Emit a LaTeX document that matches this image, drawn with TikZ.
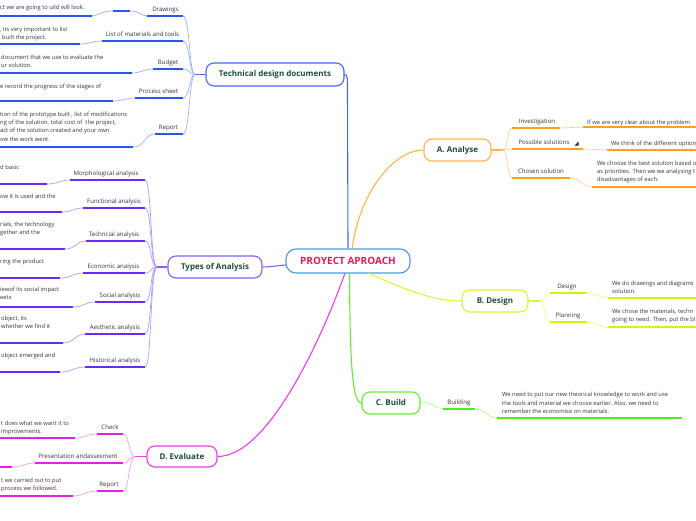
\documentclass[tikz,border=0pt]{standalone}
\usepackage{fontspec}
\setmainfont{Open Sans}
\definecolor{tg}{HTML}{1E4D3C}
\definecolor{txt}{HTML}{333333}
\definecolor{bluD}{HTML}{2A55F5}
\definecolor{bluL}{HTML}{9AB0FF}
\definecolor{bluM}{HTML}{4468FF}
\definecolor{purD}{HTML}{6A2CF0}
\definecolor{purL}{HTML}{B09CFF}
\definecolor{purM}{HTML}{8A5CFF}
\definecolor{magD}{HTML}{E61EE6}
\definecolor{magL}{HTML}{F5A0F5}
\definecolor{magM}{HTML}{EE3CEE}
\definecolor{oraD}{HTML}{FFA020}
\definecolor{oraL}{HTML}{FFD090}
\definecolor{oraM}{HTML}{FFB44A}
\definecolor{ygD}{HTML}{D4F500}
\definecolor{ygL}{HTML}{EAFF80}
\definecolor{ygM}{HTML}{DDF530}
\definecolor{grD}{HTML}{4CF01A}
\definecolor{grL}{HTML}{A8FF8A}
\definecolor{grM}{HTML}{66EE33}
\definecolor{cenB}{HTML}{4A9AE0}
\definecolor{cenT}{HTML}{E8185A}
\begin{document}
\begin{tikzpicture}[x=1pt,y=-1pt,
  lab/.style={font=\fontsize{6.1}{8.4}\selectfont, text=txt, inner sep=0pt, anchor=base},
  desc/.style={font=\fontsize{5.8}{8.4}\selectfont, text=txt, inner sep=0pt, align=left, anchor=north west},
  topic/.style={draw, rounded corners=8pt, line width=1.1pt, fill=white, font=\fontsize{8}{9}\selectfont\bfseries, text=tg, inner sep=0pt},
  ul/.style={line width=1.4pt},
  con/.style={line width=0.7pt},
  mainline/.style={line width=1.1pt}]
\useasboundingbox (0,0) rectangle (696,520);
\fill[white] (0,0) rectangle (696,520);

% ---------- topic boxes ----------
\node[topic, draw=cenB, rounded corners=10pt, minimum width=124pt, minimum height=24pt, font=\fontsize{10}{12}\selectfont\bfseries, text=cenT] (root) at (348,261) {PROYECT APROACH};
\node[topic, draw=bluM, minimum width=138pt, minimum height=23pt] (tech) at (275,74.5) {Technical design documents};
\node[topic, draw=purM, minimum width=94pt, minimum height=22pt] (types) at (215,267) {Types of Analysis};
\node[topic, draw=oraM, minimum width=67pt, minimum height=22pt] (A) at (457.5,150) {A. Analyse};
\node[topic, draw=ygM, minimum width=66pt, minimum height=22pt] (B) at (495,301) {B. Design};
\node[topic, draw=grM, minimum width=58pt, minimum height=22pt] (C) at (391,403) {C. Build};
\node[topic, draw=magM, minimum width=70pt, minimum height=21pt] (D) at (182,456.5) {D. Evaluate};

% ---------- main connectors ----------
\coordinate (rtA) at (352,249);
\coordinate (rtB) at (368,273);
\coordinate (rtC) at (349.5,273);
\coordinate (rtD) at (345,273);
\coordinate (rtT) at (286,265);
\draw[mainline,bluM] (tech.east) .. controls (347.5,74.5) and (347.5,78) .. (347.5,90) -- (root.north);
\draw[mainline,oraM] (rtA) .. controls (360,190) and (395,150) .. (A.west);
\draw[mainline,ygM] (rtB) .. controls (400,287) and (430,301) .. (B.west);
\draw[mainline,grM] (rtC) .. controls (350,360) and (352,403) .. (C.west);
\draw[mainline,magM] (rtD) .. controls (325,330) and (270,456.5) .. (D.east);
\draw[mainline,purM] (rtT) .. controls (278,265.5) and (270,267) .. (types.east);

% ---------- Technical design documents ----------
\coordinate (techS) at (195,74.5);
\draw[mainline,bluM] (tech.west) -- (techS);
% children underlines
\coordinate (drL) at (147,16);  \coordinate (drR) at (183,16);
\coordinate (liL) at (102,41);  \coordinate (liR) at (183,41);
\coordinate (buL) at (153,69);  \coordinate (buR) at (183,69);
\coordinate (prL) at (135,98);  \coordinate (prR) at (183,98);
\coordinate (reL) at (155,134); \coordinate (reR) at (183,134);
\foreach \c/\y in {drR/16,liR/41,buR/69,prR/98,reR/134}
  \draw[con,bluL] (techS) .. controls (189,74.5) and (190,\y) .. (\c);
\draw[ul,bluD] (drL) -- (drR);
\draw[ul,bluD] (liL) -- (liR);
\draw[ul,bluD] (buL) -- (buR);
\draw[ul,bluD] (prL) -- (prR);
\draw[ul,bluD] (reL) -- (reR);
\node[lab] (drT) at (165.5,11) {Drawings};
\node[lab] (liT) at (142.5,36) {List of materials and tools};
\node[lab] (buT) at (168,64) {Budget};
\node[lab] (prT) at (158.5,93) {Process sheet};
\node[lab] (reT) at (168.5,129) {Report};
% descriptions
\coordinate (d1R) at (92,16);   \coordinate (d1a) at (113,11); \coordinate (d1b) at (130,11);
\coordinate (d2R) at (80,44);
\coordinate (d3R) at (132,73);
\coordinate (d4R) at (113,101);
\coordinate (d5R) at (133,147);
\draw[ul,bluD] (-2,16) -- (d1R);
\draw[ul,bluD] (-2,44) -- (d2R);
\draw[ul,bluD] (-2,73) -- (d3R);
\draw[ul,bluD] (-2,101) -- (d4R);
\draw[ul,bluD] (-2,147) -- (d5R);
\draw[con,bluL] (d1R) .. controls (98,16) and (100,11) .. (d1a);
\draw[ul,bluD] (d1a) -- (d1b);
\draw[con,bluL] (d1b) .. controls (140,11) and (141,16) .. (drL);
\draw[con,bluL] (d2R) .. controls (90,44) and (92,41) .. (liL);
\draw[con,bluL] (d3R) .. controls (142,73) and (143,69) .. (buL);
\draw[con,bluL] (d4R) .. controls (123,101) and (125,98) .. (prL);
\draw[con,bluL] (d5R) .. controls (145,147) and (144,134) .. (reL);
\node[desc] (d1) at (0,4.4) {ct we are going to uild will look.};
\node[desc] (d2) at (0,26.4) {, its very important to list\\\hspace{2pt}built the project.};
\node[desc] (d3) at (1,54.4) {document that we use to evaluate the\\ur solution.};
\node[desc] (d4) at (0,83.4) {e record the progress of the stages of};
\node[desc] (d5) at (0,111.4) {tion of the prototype built , list of modifications\\ng of the solution, total cost of\ \ the project,\\act of the solution created and your own\\ow the work went.};

% ---------- Types of Analysis ----------
\coordinate (tyS) at (157,267);
\draw[mainline,purM] (types.west) -- (tyS);
\coordinate (moL) at (70,180);  \coordinate (moR) at (145,180);
\coordinate (fuL) at (83,208);  \coordinate (fuR) at (145,208);
\coordinate (teL) at (86,241);  \coordinate (teR) at (145,241);
\coordinate (ecL) at (83,273);  \coordinate (ecR) at (145,273);
\coordinate (soL) at (95,302);  \coordinate (soR) at (145,302);
\coordinate (aeL) at (85,334);  \coordinate (aeR) at (145,334);
\coordinate (hiL) at (85,367);  \coordinate (hiR) at (145,367);
\foreach \c/\y in {moR/180,fuR/208,teR/241,ecR/273,soR/302,aeR/334,hiR/367}
  \draw[con,purL] (tyS) .. controls (150,267) and (152,\y) .. (\c);
\foreach \a/\b in {moL/moR,fuL/fuR,teL/teR,ecL/ecR,soL/soR,aeL/aeR,hiL/hiR}
  \draw[ul,purD] (\a) -- (\b);
\node[lab] (moT) at (106,175) {Morphological analysis};
\node[lab] (fuT) at (114,203) {Functional analysis};
\node[lab] (teT) at (114,236) {Techncial analysis};
\node[lab] (ecT) at (113.5,268) {Economic analysis};
\node[lab] (soT) at (120,297) {Social analysis};
\node[lab] (aeT) at (115,329) {Aesthetic analysis};
\node[lab] (hiT) at (115,362) {Historical analysis};
\coordinate (e1R) at (47,184);
\coordinate (e2R) at (62,212);
\coordinate (e3R) at (65,249);
\coordinate (e4R) at (60,278);
\coordinate (e5R) at (73,307);
\coordinate (e6R) at (63,343);
\coordinate (e7R) at (60,372);
\draw[ul,purD] (-2,184) -- (e1R);
\draw[ul,purD] (-2,212) -- (e2R);
\draw[ul,purD] (-2,249) -- (e3R);
\draw[ul,purD] (-2,278) -- (e4R);
\draw[ul,purD] (-2,307) -- (e5R);
\draw[ul,purD] (-2,343) -- (e6R);
\draw[ul,purD] (-2,372) -- (e7R);
\draw[con,purL] (e1R) .. controls (58,184) and (60,180) .. (moL);
\draw[con,purL] (e2R) .. controls (72,212) and (74,208) .. (fuL);
\draw[con,purL] (e3R) .. controls (76,249) and (76,241) .. (teL);
\draw[con,purL] (e4R) .. controls (71,278) and (73,273) .. (ecL);
\draw[con,purL] (e5R) .. controls (84,307) and (85,302) .. (soL);
\draw[con,purL] (e6R) .. controls (74,343) and (75,334) .. (aeL);
\draw[con,purL] (e7R) .. controls (72,372) and (74,367) .. (hiL);
\node[desc] (e1) at (0,164.4) {d basic};
\node[desc] (e2) at (0,193.4) {ow it is used and the};
\node[desc] (e3) at (0,221.4) {rials, the technology\\gether and the};
\node[desc] (e4) at (0,258.4) {ring the product};
\node[desc] (e5) at (0,286.4) {iewof its social impact\\eets};
\node[desc] (e6) at (1,315.4) {object, its\\whether we find it};
\node[desc] (e7) at (1,352.4) {object emerged and};

% ---------- D. Evaluate ----------
\coordinate (evS) at (135,456.5);
\draw[mainline,magM] (D.west) -- (evS);
\coordinate (chL) at (97,434);  \coordinate (chR) at (123,434);
\coordinate (paL) at (35,463);  \coordinate (paR) at (123,463);
\coordinate (rpL) at (97,491);  \coordinate (rpR) at (123,491);
\foreach \c/\y in {chR/434,paR/463,rpR/491}
  \draw[con,magL] (evS) .. controls (129,456.5) and (129,\y) .. (\c);
\foreach \a/\b in {chL/chR,paL/paR,rpL/rpR}
  \draw[ul,magD] (\a) -- (\b);
\node[lab] (chT) at (110,429) {Check};
\node[lab] (paT) at (78,458) {Presentation andassesment};
\node[lab] (rpT) at (109,486) {Report};
\coordinate (f1R) at (75,438);
\coordinate (f2R) at (12,467);
\coordinate (f3R) at (73,496);
\draw[ul,magD] (-2,438) -- (f1R);
\draw[ul,magD] (-2,467) -- (f2R);
\draw[ul,magD] (-2,496) -- (f3R);
\draw[con,magL] (f1R) .. controls (86,438) and (86,434) .. (chL);
\draw[con,magL] (f2R) .. controls (24,467) and (24,463) .. (paL);
\draw[con,magL] (f3R) .. controls (85,496) and (85,491) .. (rpL);
\node[desc] (f1) at (1,420.4) {t does what we want it to\\improvements.};
\node[desc] (f3) at (1,477.4) {t we carried out to put\\process we followed.};

% ---------- A. Analyse ----------
\coordinate (anS) at (503,150);
\draw[mainline,oraM] (A.east) -- (anS);
\coordinate (inL) at (512,128); \coordinate (inR) at (560,128);
\coordinate (poL) at (512,149); \coordinate (poR) at (583,149);
\coordinate (csL) at (512,178); \coordinate (csR) at (570,178);
\foreach \c/\y in {inL/128,poL/149,csL/178}
  \draw[con,oraL] (anS) .. controls (508,150) and (507,\y) .. (\c);
\foreach \a/\b in {inL/inR,poL/poR,csL/csR}
  \draw[ul,oraD] (\a) -- (\b);
\node[lab] (inT) at (537,123) {Investigation};
\node[lab] (poT) at (544,144) {Possible solutions};
\node[lab] (csT) at (541,173) {Chosen solution};
\fill[black!85] (574.5,145.5) -- (578.5,145.5) -- (578.5,141.5) -- cycle;
\coordinate (g1L) at (583,127);
\coordinate (g2L) at (607,150);
\coordinate (g3L) at (592,187);
\draw[ul,oraD] (g1L) -- (698,127);
\draw[ul,oraD] (g2L) -- (698,150);
\draw[ul,oraD] (g3L) -- (698,187);
\draw[con,oraL] (inR) .. controls (571,128) and (572,127) .. (g1L);
\draw[con,oraL] (poR) .. controls (595,149) and (595,150) .. (g2L);
\draw[con,oraL] (csR) .. controls (581,178) and (581,187) .. (g3L);
\node[desc] (g1) at (587,119.4) {If we are very clear about the problem};
\node[desc] (g2) at (611,140.4) {We think of the different option};
\node[desc] (g3) at (597,160.4) {We choose the best solution based o\\as priorities. Then we we analysing t\\disadvantages of each.};

% ---------- B. Design ----------
\coordinate (deS) at (540,301);
\draw[mainline,ygM] (B.east) -- (deS);
\coordinate (dsL) at (550,293); \coordinate (dsR) at (587,293);
\coordinate (plL) at (550,322); \coordinate (plR) at (587,322);
\foreach \c/\y in {dsL/293,plL/322}
  \draw[con,ygL] (deS) .. controls (545,301) and (544,\y) .. (\c);
\foreach \a/\b in {dsL/dsR,plL/plR}
  \draw[ul,ygD] (\a) -- (\b);
\node[lab] (dsT) at (567,288) {Design};
\node[lab] (plT) at (568,317) {Planning};
\coordinate (h1L) at (608,298);
\coordinate (h2L) at (608,327);
\draw[ul,ygD] (h1L) -- (698,298);
\draw[ul,ygD] (h2L) -- (698,327);
\draw[con,ygL] (dsR) .. controls (598,293) and (597,298) .. (h1L);
\draw[con,ygL] (plR) .. controls (598,322) and (597,327) .. (h2L);
\node[desc] (h1) at (612,280.4) {We do drawings and diagrams\\solution.};
\node[desc] (h2) at (612,308.4) {We chose the materials, techn\\going to need. Then, put the bl};

% ---------- C. Build ----------
\coordinate (bdL) at (443,409); \coordinate (bdR) at (475,409);
\draw[con,grL] (C.east) .. controls (432,401) and (436,409) .. (bdL);
\draw[ul,grD] (bdL) -- (bdR);
\node[lab] (bdT) at (459,404.5) {Building};
\coordinate (k1L) at (497,418); \coordinate (k1R) at (682,418);
\draw[ul,grD] (k1L) -- (k1R);
\draw[con,grL] (bdR) .. controls (487,409) and (486,418) .. (k1L);
\node[desc] (k1) at (502,392) {We need to put our new theorical knowledge to work and use\\the tools and material we choose earlier. Also, we need to\\remember the economise on materials.};
\end{tikzpicture}
\end{document}
